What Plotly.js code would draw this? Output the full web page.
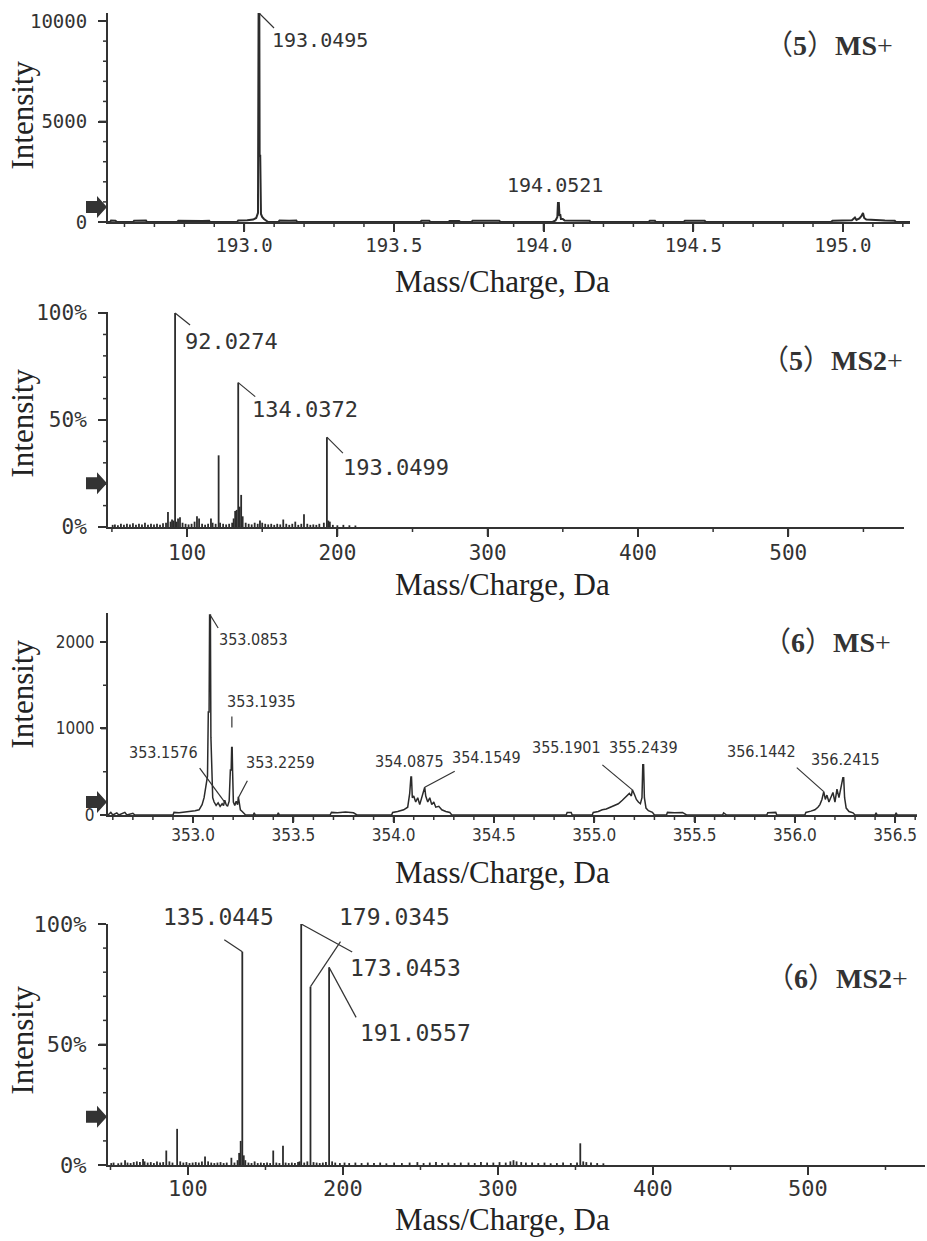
<!DOCTYPE html>
<html>
<head>
<meta charset="utf-8">
<script src="https://cdn.plot.ly/plotly-3.0.1.min.js"></script>
<style>
html,body{margin:0;padding:0;background:#ffffff;}
#chart{width:927px;height:1241px;}
</style>
</head>
<body>
<div id="chart"></div>
<script>
// ---------------- DATA ----------------
// Panel 1: (5) MS+  profile spectrum
const ms5_mz = [192.545,192.552,192.555,192.570,192.575,192.629,192.632,192.650,192.672,192.675,192.776,192.780,192.800,192.830,192.860,192.883,192.886,192.976,192.980,193.010,193.030,193.040,193.046,193.048,193.0505,193.0515,193.0535,193.056,193.060,193.066,193.072,193.080,193.114,193.118,193.150,193.174,193.177,193.588,193.592,193.618,193.622,193.682,193.686,193.718,193.722,193.759,193.763,193.800,193.852,193.856,194.030,194.040,194.046,194.048,194.051,194.053,194.056,194.058,194.064,194.070,194.090,194.120,194.154,194.157,194.351,194.355,194.372,194.375,194.468,194.472,194.505,194.538,194.542,194.960,194.965,195.000,195.030,195.040,195.045,195.055,195.062,195.067,195.071,195.078,195.100,195.140,195.173,195.177,195.224];
const ms5_int = [0,0,70,60,0,0,60,50,70,0,0,60,50,70,50,60,0,0,80,90,120,200,450,10400,10400,3300,3300,400,250,150,100,0,0,70,60,70,0,0,60,60,0,0,50,50,0,0,60,50,60,0,0,80,250,945,945,350,350,150,150,80,70,70,60,0,0,60,60,0,0,60,50,60,0,0,60,70,90,220,100,180,300,450,200,120,90,70,60,0,0];
const ms5_label_mz  = [193.0495, 194.0521];
const ms5_label_int = [10400, 945];

// Panel 2: (5) MS2+  centroid spectrum (relative intensity, %)
const ms5b_mz  = [50.5,52,54,56,58,60,62,64,66,68,70,72,74,76,78,80,82,84,86,87.3,89,90,91,92.0274,93,94,95.3,97,99,101,103,105,106.6,108,110,112,114,115.9,117,119,121,122,124,126,128,130,131,132,133,134.0372,135,136,137,139,141,143,145,147,148.5,150,152,154,156,158,160,162,164,166,168,170,172,174,176,177.8,180,182,184,186,188,191,193.0499,194,195,197,200,204,208,212];
const ms5b_int = [1,1.2,0.8,1.5,1,1.5,1.2,1.8,1,1.5,1.2,2,1,1.5,1.2,1.5,1,1.8,2,7,2.5,3.5,3,100,2.5,4,4.5,2,1.5,1.2,1.5,2.5,5,4,1.5,1,1.5,4,2,1.5,33.5,2,1.5,1.2,1.5,2,4,7.5,8,67.5,9.5,15,5,2,1.5,1.2,2,1.5,3,2,1.5,1.2,1.5,1,1.5,1.2,3.5,1.5,1,1.5,2.5,1,1.5,6,1.5,1,1.2,1,1.5,2,42,3,2.5,1,0.8,1,0.8,0.7];
const ms5b_label_mz  = [92.0274, 134.0372, 193.0499];
const ms5b_label_int = [100, 67.5, 42];

// Panel 3: (6) MS+  profile spectrum
const ms6_mz = [352.576,352.590,352.600,352.620,352.630,352.660,352.670,352.700,352.710,352.900,352.905,352.930,352.960,352.990,353.010,353.030,353.045,353.055,353.065,353.072,353.076,353.080,353.0825,353.0865,353.089,353.093,353.098,353.105,353.115,353.125,353.135,353.145,353.152,353.158,353.165,353.172,353.180,353.186,353.190,353.1925,353.195,353.197,353.201,353.208,353.215,353.222,353.2259,353.230,353.236,353.245,353.255,353.262,353.300,353.305,353.310,353.420,353.425,353.430,353.683,353.690,353.720,353.760,353.800,353.817,353.990,353.995,354.020,354.050,354.070,354.080,354.086,354.089,354.093,354.100,354.110,354.120,354.130,354.140,354.150,354.1549,354.160,354.170,354.180,354.190,354.200,354.210,354.225,354.240,354.260,354.280,354.290,354.860,354.865,354.885,354.890,354.990,354.995,355.020,355.040,355.060,355.080,355.100,355.120,355.140,355.160,355.175,355.185,355.1901,355.200,355.210,355.220,355.230,355.238,355.242,355.246,355.250,355.258,355.270,355.290,355.300,355.360,355.365,355.400,355.440,355.460,355.640,355.645,355.660,355.860,355.865,355.905,355.910,356.050,356.055,356.080,356.100,356.115,356.125,356.135,356.1442,356.152,356.160,356.170,356.180,356.190,356.200,356.210,356.220,356.230,356.2395,356.2435,356.248,356.256,356.270,356.290,356.300,356.400,356.405,356.410,356.500,356.505,356.510,356.609];
const ms6_int = [0,30,0,25,0,30,0,20,0,0,30,25,35,40,50,60,120,200,380,450,1190,1190,2312,2312,900,400,200,150,110,140,100,130,110,170,120,100,160,520,520,780,780,520,150,110,160,120,210,150,60,40,20,0,0,25,0,0,25,0,0,30,25,35,25,0,0,30,40,60,90,250,440,440,200,220,150,200,120,200,250,320,220,150,200,120,150,90,100,60,40,30,0,0,30,30,0,0,30,40,60,70,90,110,130,170,220,250,220,290,240,180,150,130,200,580,580,200,80,50,30,0,0,30,25,30,0,0,25,0,0,25,30,0,0,30,45,60,90,120,180,270,180,230,150,200,260,150,300,200,330,430,430,200,80,40,25,0,0,25,0,0,25,0,0];
const ms6_label_mz  = [353.0853, 353.1935, 353.1576, 353.2259, 354.0875, 354.1549, 355.1901, 355.2439, 356.1442, 356.2415];
const ms6_label_int = [2312, 780, 150, 200, 440, 320, 290, 580, 270, 430];

// Panel 4: (6) MS2+  centroid spectrum (relative intensity, %)
const ms6b_mz  = [50.5,52,55,57,59.4,61,63,65,67,69,71,72,74,76,78,80,82,84,86,88,90,93,95,97,99,101,103,105,107,109,111,113,115,117,119,121,123,125,128,130,132,133,134,135.0445,136,137,139,141,143,145,147,149,151,153,155,157,159,161.3,163,165,167,169,171,172,173.0453,175,177,179.0345,181,183,185,187,189,191.0557,193,195,198,201,204,208,212,216,220,224,228,233,238,243,248,252,256,260,264,268,272,276,281,285,289,293,297,301,305,308,310,312,315,318,322,326,330,334,338,342,347,351,353.1,355,357,360,364,368];
const ms6b_int = [0.8,1,0.7,1,2,1,0.8,1.2,1.5,1.2,2.5,1.5,1,1.2,0.8,1.5,1,1.2,6,1.5,1,15,1.5,1,1.2,0.8,1,1.2,1,1.5,3.5,1.5,1,0.8,1,1.2,0.8,1,3,1,2,5,10,88.5,4,2,1,0.8,1.5,0.8,1,0.8,1,0.8,6,1,0.8,8,1,0.8,1,0.8,1.2,1.5,100,1,1.5,74,1.2,1,0.8,1,1.2,82,1.5,1,0.8,1,0.8,1,0.8,1,0.8,1,0.7,1,0.8,1,1.2,0.8,1,1.2,0.8,1,0.8,1,1,0.8,1.2,1,1,1.2,1,1.5,2,1.5,1.2,1,1,0.8,1,0.7,0.8,1,0.8,1,9,1.5,1.2,1,0.8,0.7];
const ms6b_label_mz  = [135.0445, 173.0453, 179.0345, 191.0557];
const ms6b_label_int = [88.5, 100, 74, 82];

// Precursor arrow levels on the intensity axes
const arrowLevels = [750, 20.5, 150, 20];

// Panel captions and axis titles
const panelTitles = ['（<b>5</b>）<b>MS</b>+', '（<b>5</b>）<b>MS2</b>+', '（<b>6</b>）<b>MS</b>+', '（<b>6</b>）<b>MS2</b>+'];
const xTitle = 'Mass/Charge, Da';
const yTitle = 'Intensity';
const yTickVals = [[0,5000,10000],[0,50,100],[0,1000,2000],[0,50,100]];
const yTickText = [['0','5000','10000'],['0%','50%','100%'],['0','1000','2000'],['0%','50%','100%']];

// ---------------- LAYOUT / STYLE ----------------
const W = 927, H = 1241;
const INK = '#2b2b2b';
const MONO = '"DejaVu Sans Mono", "Liberation Mono", monospace';
const NARROW = '"DejaVu Sans Condensed", "Liberation Sans Narrow", sans-serif';
const SERIF = '"Liberation Serif", "DejaVu Serif", serif';
const TITLEFONT = '"Liberation Serif", "Noto Sans CJK SC", serif';

// pixel boxes of the four plot areas
const boxes = [
  {x:[108,910], y:[13,222],   xr:[192.545,195.224], yr:[0,10400], xdt:0.5, xt0:193, xmin:0.1, ymin:1000, tfont:MONO, tsize:19, tfmt:'.1f', lab:20, labfont:MONO, ttl:{x:895,y:45}, ty:115, xty:281.5, tlen:8, xstand:-3, ystand:7, lw:2},
  {x:[108,904], y:[312,527],  xr:[47.4,577],        yr:[0,100.5], xdt:100, xt0:0,   xmin:50,  ymin:10,   tfont:MONO, tsize:21, tfmt:'d',   lab:22, labfont:MONO, ttl:{x:905,y:360}, ty:423, xty:584.5, tlen:8, xstand:-2, ystand:7, lw:1.8},
  {x:[108,917], y:[613,815],  xr:[352.576,356.609], yr:[0,2335],  xdt:0.5, xt0:353, xmin:0.1, ymin:500,  tfont:NARROW, tsize:17, tfmt:'.1f', lab:16, labfont:NARROW, ttl:{x:893,y:642}, ty:694, xty:872.5, tlen:6, xstand:-2, ystand:2, lw:1.5},
  {x:[108,925], y:[924,1165], xr:[48.4,575.5],      yr:[0,100],   xdt:100, xt0:0,   xmin:50,  ymin:10,   tfont:MONO, tsize:22, tfmt:'d',   lab:23, labfont:MONO, ttl:{x:910,y:978}, ty:1040, xty:1219, tlen:8, xstand:-5, ystand:7, lw:1.8}
];

// label placement offsets (pixels): [xanchor, xshift, yshift, leader dx1, dy1, leader dx0, dy0]
const labelPlace = [
  [['left',11,-27, 15,-15,0,0], ['center',-4,18, 0,0,0,0]],
  [['left',8,-28, 15,-12,0,0], ['left',12,-27, 17,-14,0,0], ['left',14,-30, 16,-16,0,0]],
  [['left',7,-25, 8,-13,0,0], ['center',30,46, 0,31,0,20], ['right',-25,50, -25,34,0,0], ['left',6,35, 9,17,0,0],
   ['center',-2,15, 0,0,0,0], ['center',62,30, 30,16,0,0], ['center',-66,42, -30,25,0,0], ['center',0,17, 0,0,0,0],
   ['center',-62,40, -27,24,0,0], ['center',2,18, 0,0,0,0]],
  [['center',-24,35, -18,12,0,0], ['left',47,-44, 51,-28,0,0], ['left',27,70, 30,45,0,0], ['left',29,-66, 27,-50,0,0]]
];

function sticks(mz, inten){
  const x=[], y=[];
  for(let i=0;i<mz.length;i++){ x.push(mz[i],mz[i],null); y.push(0,inten[i],null); }
  return {x, y};
}
// tick positions stepping along an axis range
function steps(t0, dt, lo, hi){
  const out=[]; let k=Math.ceil((lo-t0)/dt - 1e-9);
  for(;;k++){ const v=t0+k*dt; if(v>hi+1e-9) break; out.push(+v.toFixed(6)); }
  return out;
}
function isOn(v, list){ return list.some(u=>Math.abs(u-v)<1e-6); }

const s2 = sticks(ms5b_mz, ms5b_int);
const s4 = sticks(ms6b_mz, ms6b_int);

const data = [
  {type:'scatter', mode:'lines', x:ms5_mz, y:ms5_int, xaxis:'x', yaxis:'y', line:{color:INK, width:boxes[0].lw}, name:'(5) MS+'},
  {type:'scatter', mode:'lines', x:s2.x, y:s2.y, xaxis:'x2', yaxis:'y2', line:{color:INK, width:boxes[1].lw}, connectgaps:false, name:'(5) MS2+'},
  {type:'scatter', mode:'lines', x:ms6_mz, y:ms6_int, xaxis:'x3', yaxis:'y3', line:{color:INK, width:boxes[2].lw}, name:'(6) MS+'},
  {type:'scatter', mode:'lines', x:s4.x, y:s4.y, xaxis:'x4', yaxis:'y4', line:{color:INK, width:boxes[3].lw}, connectgaps:false, name:'(6) MS2+'}
];

const layout = {
  width:W, height:H, margin:{l:0,r:0,t:0,b:0},
  paper_bgcolor:'#ffffff', plot_bgcolor:'rgba(0,0,0,0)',
  showlegend:false, annotations:[], shapes:[]
};

const labelSets = [
  [ms5_label_mz, ms5_label_int],
  [ms5b_label_mz, ms5b_label_int],
  [ms6_label_mz, ms6_label_int],
  [ms6b_label_mz, ms6b_label_int]
];

boxes.forEach((b,i)=>{
  const n = i===0 ? '' : String(i+1);
  const common = {showline:true, linecolor:'#333', linewidth:2, ticks:'outside', tickcolor:'#333', tickwidth:2,
                  ticklen:b.tlen, showgrid:false, zeroline:false, fixedrange:true,
                  tickfont:{family:b.tfont, size:b.tsize, color:'#333'}};
  layout['xaxis'+n] = Object.assign({}, common, {
    domain:[b.x[0]/W, b.x[1]/W], range:b.xr, anchor:'y'+n,
    tickmode:'linear', tick0:b.xt0, dtick:b.xdt, tickformat:b.tfmt, ticklabelstandoff:b.xstand
  });
  layout['yaxis'+n] = Object.assign({}, common, {
    domain:[1-b.y[1]/H, 1-b.y[0]/H], range:b.yr, anchor:'x'+n,
    tickmode:'array', tickvals:yTickVals[i], ticktext:yTickText[i], ticklabelstandoff:b.ystand
  });

  // tick marks (major + minor) drawn as small line shapes hanging off the axis lines
  const xMaj = steps(b.xt0, b.xdt, b.xr[0], b.xr[1]);
  const xMin = steps(b.xt0, b.xmin, b.xr[0], b.xr[1]).filter(v=>!isOn(v,xMaj));
  const yMaj = yTickVals[i];
  const yMin = steps(0, b.ymin, b.yr[0], b.yr[1]).filter(v=>!isOn(v,yMaj));
  const xTick = (v,len,w)=>({type:'line', layer:'above', xref:'x'+n, yref:'y'+n+' domain', ysizemode:'pixel', yanchor:0,
      x0:v, x1:v, y0:-1, y1:-1-len, line:{color:'#333', width:w}});
  const yTick = (v,len,w)=>({type:'line', layer:'above', xref:'x'+n+' domain', yref:'y'+n, xsizemode:'pixel', xanchor:0,
      y0:v, y1:v, x0:-1, x1:-1-len, line:{color:'#333', width:w}});
  xMaj.forEach(v=>layout.shapes.push(xTick(v, b.tlen, 1.8)));
  xMin.forEach(v=>layout.shapes.push(xTick(v, 4, 1.5)));
  yMaj.forEach(v=>layout.shapes.push(yTick(v, b.tlen, 1.8)));
  yMin.forEach(v=>layout.shapes.push(yTick(v, 4, 1.5)));

  // axis titles
  layout.annotations.push({xref:'paper', yref:'paper', x:503/W, y:1-b.xty/H, text:xTitle, showarrow:false,
    xanchor:'center', yanchor:'middle', font:{family:SERIF, size:31, color:'#222'}});
  layout.annotations.push({xref:'paper', yref:'paper', x:21.5/W, y:1-b.ty/H, text:yTitle, showarrow:false, textangle:-90,
    xanchor:'center', yanchor:'middle', font:{family:SERIF, size:31, color:'#222'}});
  // panel caption
  layout.annotations.push({xref:'paper', yref:'paper', x:b.ttl.x/W, y:1-b.ttl.y/H, text:panelTitles[i], showarrow:false,
    xanchor:'right', yanchor:'middle', font:{family:TITLEFONT, size:28, color:'#333'}});

  // peak labels + leader lines
  const [lm, li] = labelSets[i];
  lm.forEach((m,k)=>{
    const p = labelPlace[i][k];
    layout.annotations.push({xref:'x'+n, yref:'y'+n, x:m, y:li[k], text:m.toFixed(4), showarrow:false,
      xanchor:p[0], yanchor:'middle', xshift:p[1], yshift:p[2], font:{family:b.labfont, size:b.lab, color:'#333'}});
    if(p[3]!==0 || p[4]!==0){
      layout.shapes.push({type:'line', xref:'x'+n, yref:'y'+n, xsizemode:'pixel', ysizemode:'pixel',
        xanchor:m, yanchor:li[k], x0:p[5], y0:p[6], x1:p[3], y1:p[4], line:{color:'#333', width:1.2}});
    }
  });

  // precursor arrow on the intensity axis
  layout.shapes.push({type:'path', xref:'paper', yref:'y'+n, xsizemode:'pixel', ysizemode:'pixel',
    xanchor:b.x[0]/W, yanchor:arrowLevels[i],
    path:'M-22,6 L-11,6 L-11,11 L-1,0 L-11,-11 L-11,-6 L-22,-6 Z', fillcolor:'#333', line:{width:0}});
});

Plotly.newPlot('chart', data, layout, {displayModeBar:false, staticPlot:true});
</script>
</body>
</html>
